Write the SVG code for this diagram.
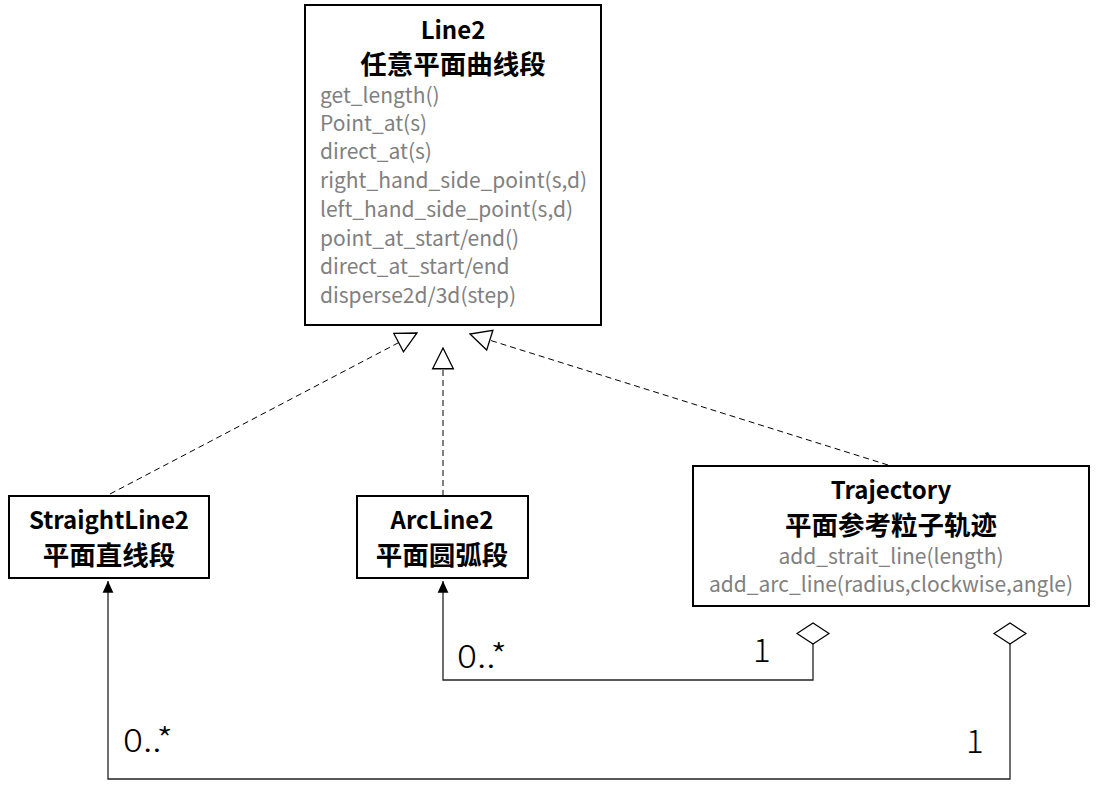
<svg xmlns="http://www.w3.org/2000/svg" xmlns:xlink="http://www.w3.org/1999/xlink" width="1098" height="793" viewBox="0 0 1098 793">
<style>
.box{fill:#fff;stroke:#000;stroke-width:2}
.t{font-family:"Noto Sans CJK SC","Liberation Sans",sans-serif;font-weight:bold;font-size:24px;fill:#000;text-anchor:middle}
.z{font-size:26.5px}
.m{font-family:"Noto Sans CJK SC","Liberation Sans",sans-serif;font-size:21px;fill:#808080}
.c{text-anchor:middle}
.lbl{font-family:"Noto Sans CJK SC","Liberation Sans",sans-serif;font-size:33px;fill:#000;font-weight:300}
.dash{fill:none;stroke:#000;stroke-width:1;stroke-dasharray:6,4}
.solid{fill:none;stroke:#222;stroke-width:1.3}
</style>
<defs>
<marker id="hollow" markerUnits="userSpaceOnUse" markerWidth="24" markerHeight="24" viewBox="-21 -11 22 22" refX="0" refY="0" orient="auto">
<path d="M0,0 L-19,-9.5 L-19,9.5 Z" fill="#fff" stroke="#000" stroke-width="1.2"/>
</marker>
<marker id="filled" markerUnits="userSpaceOnUse" markerWidth="14" markerHeight="14" viewBox="-12 -6 13 12" refX="0" refY="0" orient="auto">
<path d="M0,0 L-11,-5 L-11,5 Z" fill="#000"/>
</marker>
<path id="diamond" d="M0,0 L16,-10.5 L0,-21 L-16,-10.5 Z" fill="#fff" stroke="#000" stroke-width="1.2"/>
</defs>

<g id="connectors">
<path class="dash" d="M110,494 L417,333" marker-end="url(#hollow)"/>
<path class="dash" d="M443,496 L443,348" marker-end="url(#hollow)"/>
<path class="dash" d="M888,465 L470,334" marker-end="url(#hollow)"/>
<path class="solid" d="M813,644 V680 H443 V581" marker-end="url(#filled)"/>
<path class="solid" d="M1010,644 V779 H108 V581" marker-end="url(#filled)"/>
<use xlink:href="#diamond" x="813" y="644"/>
<use xlink:href="#diamond" x="1010" y="644"/>
<text class="lbl" x="457" y="668" textLength="50" lengthAdjust="spacingAndGlyphs">0..*</text>
<text class="lbl" x="753" y="662">1</text>
<text class="lbl" x="123" y="752" textLength="50" lengthAdjust="spacingAndGlyphs">0..*</text>
<text class="lbl" x="966" y="753">1</text>
</g>

<g id="line2">
<rect class="box" x="305" y="5" width="296" height="320"/>
<text class="t" x="453" y="39">Line2</text>
<text class="t z" x="453" y="74">任意平面曲线段</text>
<text class="m" x="320" y="103">get_length()</text>
<text class="m" x="320" y="131">Point_at(s)</text>
<text class="m" x="320" y="159">direct_at(s)</text>
<text class="m" x="320" y="188">right_hand_side_point(s,d)</text>
<text class="m" x="320" y="217">left_hand_side_point(s,d)</text>
<text class="m" x="320" y="246">point_at_start/end()</text>
<text class="m" x="320" y="274">direct_at_start/end</text>
<text class="m" x="320" y="303">disperse2d/3d(step)</text>
</g>

<g id="straightline2">
<rect class="box" x="9" y="496" width="200" height="82"/>
<text class="t" x="109" y="529">StraightLine2</text>
<text class="t z" x="109" y="565">平面直线段</text>
</g>

<g id="arcline2">
<rect class="box" x="357" y="496" width="171" height="82"/>
<text class="t" x="442" y="529">ArcLine2</text>
<text class="t z" x="442" y="565">平面圆弧段</text>
</g>

<g id="trajectory">
<rect class="box" x="693" y="466" width="396" height="140"/>
<text class="t" x="891" y="499">Trajectory</text>
<text class="t z" x="891" y="535">平面参考粒子轨迹</text>
<text class="m c" x="891" y="564">add_strait_line(length)</text>
<text class="m c" x="891" y="592">add_arc_line(radius,clockwise,angle)</text>
</g>
</svg>
